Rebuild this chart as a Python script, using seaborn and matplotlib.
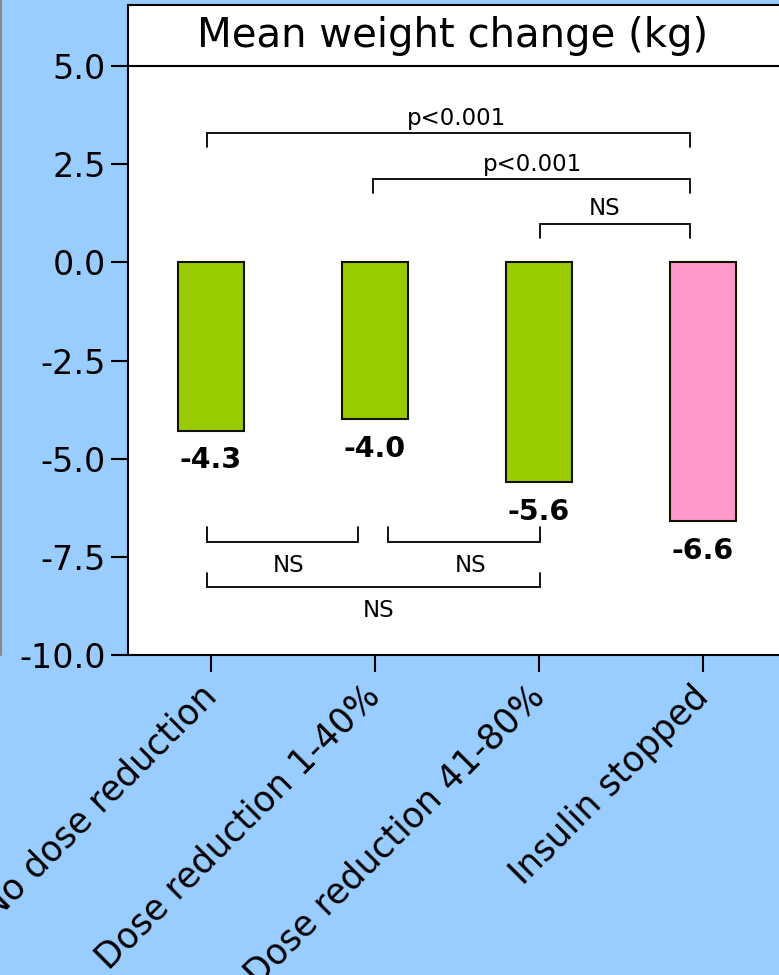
import matplotlib
matplotlib.use('Agg')
import pandas as pd
import matplotlib.pyplot as plt
import seaborn as sns
from matplotlib.lines import Line2D

# data
groups = ['No dose reduction', 'Dose reduction 1-40%', 'Dose reduction 41-80%', 'Insulin stopped']
weight_change = [-4.3, -4.0, -5.6, -6.6]
bar_colors = ['#99CC00', '#99CC00', '#99CC00', '#FF99CC']
yticks = [5.0, 2.5, 0.0, -2.5, -5.0, -7.5, -10.0]

# significance brackets: x1, x2, y of line, y of tips, label, label x, label baseline y
brackets_top = [
    (-0.024, 2.92, 3.29, 2.94, 'p<0.001', 1.50, 3.50),
    (0.988, 2.92, 2.12, 1.76, 'p<0.001', 1.96, 2.33),
    (2.006, 2.92, 0.975, 0.62, 'NS', 2.40, 1.20),
]
brackets_bottom = [
    (-0.024, 0.896, -7.11, -6.75, 'NS', 0.47, -7.89),
    (1.079, 2.006, -7.11, -6.75, 'NS', 1.58, -7.89),
    (-0.024, 2.006, -8.28, -7.90, 'NS', 1.02, -9.03),
]

sns.set_style('ticks')
plt.rcParams['font.family'] = ['DejaVu Sans']
plt.rcParams['text.color'] = 'black'
plt.rcParams['xtick.color'] = 'black'
plt.rcParams['ytick.color'] = 'black'

df = pd.DataFrame({'group': groups, 'change': weight_change})

bg = '#99CCFF'
fig = plt.figure(figsize=(7.79, 9.75), dpi=100, facecolor=bg)
ax = fig.add_axes([128 / 779, 320 / 975, 657 / 779, 589 / 975])
ax.set_facecolor('white')

sns.barplot(data=df, x='group', y='change', hue='group', palette=bar_colors,
            saturation=1, width=0.4, edgecolor='#111100', linewidth=1.5,
            legend=False, ax=ax)

ax.set_xlim(-0.506, 3.5)
ax.set_ylim(-10, 5)
ax.set_yticks(yticks)
ax.set_yticklabels(['%.1f' % t for t in yticks], fontsize=24)
ax.set_xlabel('')
ax.set_ylabel('')
ax.tick_params(axis='both', direction='out', length=12, width=1.5,
               bottom=True, left=True)
ax.tick_params(axis='y', pad=4)
ax.set_xticks(range(len(groups)))
ax.set_xticklabels(groups, fontsize=25, rotation=45, ha='right', va='center',
                   rotation_mode='anchor')
ax.tick_params(axis='x', pad=14)

for side in ['left', 'bottom']:
    ax.spines[side].set_color('black')
    ax.spines[side].set_linewidth(1.5)
ax.spines['top'].set_visible(False)
ax.spines['right'].set_visible(False)

# value labels under the bars
for i, v in enumerate(weight_change):
    ax.annotate('%.1f' % v, xy=(i, v), xytext=(0, -11), textcoords='offset points',
                ha='center', va='top', fontsize=20.5, fontweight='bold')

# brackets
for x1, x2, yl, yt, lab, lx, ly in brackets_top + brackets_bottom:
    ax.plot([x1, x1, x2, x2], [yt, yl, yl, yt], color='black', lw=1.3,
            solid_joinstyle='miter')
    ax.text(lx, ly, lab, ha='center', va='baseline', fontsize=16.5)

# title box
tax = fig.add_axes([128 / 779, 909 / 975, 0.86, 61 / 975])
tax.set_facecolor('white')
tax.set_xticks([])
tax.set_yticks([])
for s in tax.spines.values():
    s.set_color('black')
    s.set_linewidth(1.5)
tax.text((453 - 128) / (0.86 * 779), 0.5, 'Mean weight change (kg)',
         transform=tax.transAxes, ha='center', va='center', fontsize=29)

# edge of the neighbouring panel
fig.add_artist(Line2D([0.001, 0.001], [320 / 975, 1.0], color='#888888', lw=1.5))

fig.savefig('out.png', dpi=100, facecolor=bg)
